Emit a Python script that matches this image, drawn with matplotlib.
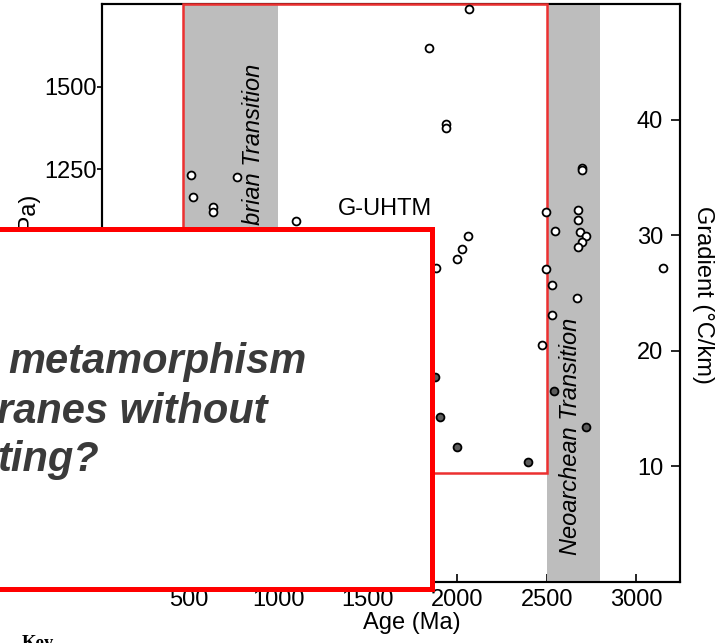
import numpy as np
import matplotlib.pyplot as plt
from matplotlib.patches import Rectangle

plt.rcParams['font.family'] = ['Liberation Sans', 'DejaVu Sans']

# open circles: age (Ma), gradient (C/km)
open_age = [514, 525, 637, 637, 771, 1101, 2067, 1844, 1939, 1939,
            2698, 2698, 2497, 2547, 2676, 2676, 2687, 2721, 2698, 2676,
            2061, 2028, 2000, 1883, 2497, 2531, 2670, 2531, 2475, 3151]
open_grad = [35.2, 33.3, 32.4, 32.0, 35.0, 31.2, 49.6, 46.2, 39.6, 39.3,
             35.8, 35.6, 32.0, 30.4, 32.2, 31.3, 30.3, 29.9, 29.4, 29.0,
             29.9, 28.8, 27.9, 27.2, 27.1, 25.7, 24.6, 23.1, 20.5, 27.2]
# filled circles
fill_age = [1877, 1905, 2000, 2397, 2542, 2721]
fill_grad = [17.7, 14.3, 11.7, 10.4, 16.5, 13.4]

pressure_ticks = [0, 250, 500, 750, 1000, 1250, 1500]
grad_ticks = [10, 20, 30, 40]
age_ticks = [500, 1000, 1500, 2000, 2500, 3000]

bands = [(465, 1000), (2500, 2800)]
box_age = (465, 2500)
box_grad = 9.4

W, H = 725, 643
fig = plt.figure(figsize=(W / 100, H / 100), dpi=100)
ax = fig.add_axes([102 / W, 1 - 582 / H, 578 / W, 578 / H])
ax2 = ax.twinx()

xlim = (15, 3245)
ax.set_xlim(xlim)
ax.set_ylim(0, 1750)
ax2.set_ylim(0, 50)

for a in (ax, ax2):
    for s in a.spines.values():
        s.set_linewidth(1.5)

ax.set_yticks(pressure_ticks)
ax.tick_params(axis='y', direction='out', length=3.5, width=1.2, pad=0.5, labelsize=17)
ax.set_xticks(age_ticks)
ax.tick_params(axis='x', direction='in', length=6, width=1.2, pad=5, labelsize=17)

ax2.set_yticks(grad_ticks)
ax2.tick_params(axis='y', direction='in', length=6.5, width=1.2, pad=-12.2, labelsize=17)
for lbl in ax2.get_yticklabels():
    lbl.set_horizontalalignment('right')

for b0, b1 in bands:
    ax2.axvspan(b0, b1, color='#bdbdbd', lw=0, zorder=0.5)

ax2.add_patch(Rectangle((box_age[0], box_grad), box_age[1] - box_age[0], 50 - box_grad,
                        fill=False, edgecolor='#ec3030', lw=1.8, zorder=3, clip_on=False))

ax2.scatter(open_age, open_grad, s=32, facecolor='white', edgecolor='black', lw=1.3, zorder=4)
ax2.scatter(fill_age, fill_grad, s=32, facecolor='#5c5c5c', edgecolor='black', lw=1.3, zorder=4)

ax2.text(1598, 32.3, 'G-UHTM', fontsize=17, ha='center', va='center', zorder=5)
ax2.text(2631, 12.6, 'Neoarchean Transition', fontsize=17, style='italic',
         rotation=90, ha='center', va='center', zorder=5)
ax2.text(860, 44.8, 'Neoproterozoic\u2013Cambrian Transition', fontsize=17, style='italic',
         rotation=90, ha='center', va='top', zorder=5)

def px(x, y):
    return x / W, 1 - y / H

fig.text(*px(412, 612), 'Age (Ma)', fontsize=17, ha='center', va='top')
fig.text(*px(703, 295), 'Gradient (\u00b0C/km)', fontsize=17, rotation=270,
         ha='center', va='center')
fig.text(*px(30, 277), 'Pressure (MPa)', fontsize=17, rotation=90,
         ha='center', va='center')
fig.text(*px(22, 635), 'Key', fontsize=13.5, family='Liberation Serif',
         weight='bold', ha='left', va='top')

# overlay box with question
fig.add_artist(Rectangle(px(-20, 589), 452 / W, 360 / H, transform=fig.transFigure,
                         facecolor='white', edgecolor='#ff0000', lw=3.6, zorder=10))
lines = [(8, 373, 'metamorphism'), (-3, 423, 'ranes without'), (-3, 471, 'ting?')]
for x, y, t in lines:
    fig.text(*px(x, y), t, fontsize=30, weight='bold', style='italic',
             color='#3a3a3a', ha='left', va='baseline', zorder=11)

fig.savefig('out.png', dpi=100)
